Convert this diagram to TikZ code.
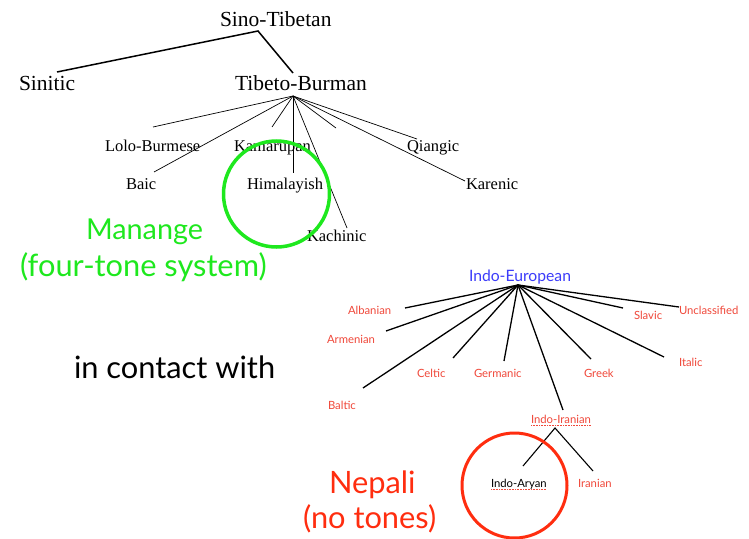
\documentclass[tikz,border=0pt]{standalone}
\usepackage{fontspec}
\setmainfont{Liberation Serif}
\newfontfamily\gill{Lato}
\definecolor{lgreen}{RGB}{30,232,30}
\definecolor{nred}{RGB}{255,45,15}
\definecolor{lred}{RGB}{240,72,58}
\definecolor{ieblue}{RGB}{60,60,250}
\begin{document}
\begin{tikzpicture}[x=1pt,y=-1pt,
  lbl/.style={anchor=base west,inner sep=0pt,outer sep=0pt},
  big/.style={lbl,font=\fontsize{21.5}{24}\selectfont},
  mid/.style={lbl,font=\fontsize{16.5}{19}\selectfont},
  huge/.style={lbl,font=\gill\fontsize{30.8}{34}\selectfont},
  ie/.style={lbl,font=\gill\fontsize{11.3}{13}\selectfont,text=lred},
  thickline/.style={line width=1.5pt,black},
  thinline/.style={line width=0.7pt,black},
  squig/.style={lred,line width=0.5pt,dash pattern=on 0.8pt off 0.8pt}]
\useasboundingbox[fill=white] (0,0) rectangle (749,538);

% Sino-Tibetan tree
\node[big] (st) at (220,27) {Sino-Tibetan};
\node[big] (sin) at (19,90) {Sinitic};
\node[big] (tb) at (235,90) {Tibeto-Burman};
\coordinate (stapex) at (258,31);
\coordinate (sinend) at (57,72);
\coordinate (tbtop) at (293,73);
\draw[thickline] (sinend) -- (stapex) -- (tbtop);

\node[mid] (lb) at (105,151) {Lolo-Burmese};
\node[mid] (kam) at (234,151) {Kamarupan};
\node[mid] (baic) at (126,189) {Baic};
\node[mid] (him) at (247,189) {Himalayish};
\node[mid] (kach) at (307,241) {Kachinic};
\node[mid] (qia) at (407,151) {Qiangic};
\node[mid] (kar) at (466,189) {Karenic};
\coordinate (tbapex) at (293,96);
\coordinate (lbend) at (153,127);
\coordinate (baicend) at (154,172);
\coordinate (kamend) at (272,127);
\coordinate (himend) at (293,173);
\coordinate (kachend) at (347,228);
\coordinate (xend) at (336,128);
\coordinate (qiaend) at (417,139);
\coordinate (karend) at (465,181);
\foreach \e in {lbend,baicend,kamend,himend,kachend,xend,qiaend,karend}
  \draw[thinline] (tbapex) -- (\e);

\draw[lgreen,line width=3.5pt] (276.5,194) circle[radius=53];

\node[huge,text=lgreen,font=\gill\fontsize{28.8}{32}\selectfont] (man) at (86,239) {Manange};
\node[huge,text=lgreen] (four) at (20,276) {(four-tone system)};
\node[huge,text=black] (contact) at (74,378) {in contact with};

% Indo-European tree
\node[lbl,font=\gill\fontsize{15.7}{18}\selectfont,text=ieblue] (ie) at (469,281) {Indo-European};
\node[ie] (alb) at (348,314) {Albanian};
\node[ie] (arm) at (327,343) {Armenian};
\node[ie] (bal) at (328,409) {Baltic};
\node[ie] (cel) at (417,377) {Celtic};
\node[ie] (ger) at (474,377) {Germanic};
\node[ie] (gre) at (584,377) {Greek};
\node[ie] (ita) at (679,366) {Italic};
\node[ie] (sla) at (634,319) {Slavic};
\node[ie] (unc) at (679,314) {Unclassified};
\node[ie] (iir) at (531,423) {Indo-Iranian};
\node[ie,text=black] (iar) at (491,487) {Indo-Aryan};
\node[ie] (ira) at (578,487) {Iranian};
\coordinate (ieapex) at (518,285);
\coordinate (albend) at (405,308);
\coordinate (armend) at (386,331);
\coordinate (balend) at (363,388);
\coordinate (celend) at (453,358);
\coordinate (gerend) at (504,361);
\coordinate (iirend) at (563,410);
\coordinate (greend) at (591,359);
\coordinate (itaend) at (664,357);
\coordinate (slaend) at (623,308);
\coordinate (uncend) at (679,307);
\foreach \e in {albend,armend,balend,celend,gerend,iirend,greend,itaend,slaend,uncend}
  \draw[thickline,line width=1.3pt] (ieapex) -- (\e);
\coordinate (iirapex) at (555,428);
\coordinate (iarend) at (523,466);
\coordinate (iraend) at (593,471);
\draw[thickline,line width=1.1pt] (iarend) -- (iirapex) -- (iraend);
\draw[squig] ([yshift=-2pt]iir.base west) -- ([yshift=-2pt]iir.base east);
\draw[squig] ([yshift=-2pt]iar.base west) -- ([yshift=-2pt]iar.base east);

\draw[nred,line width=3pt] (514.5,485.5) circle[radius=52.5];

\node[huge,text=nred] (nep) at (329,493) {Nepali};
\node[huge,text=nred] (tones) at (303,528) {(no tones)};
\end{tikzpicture}
\end{document}
